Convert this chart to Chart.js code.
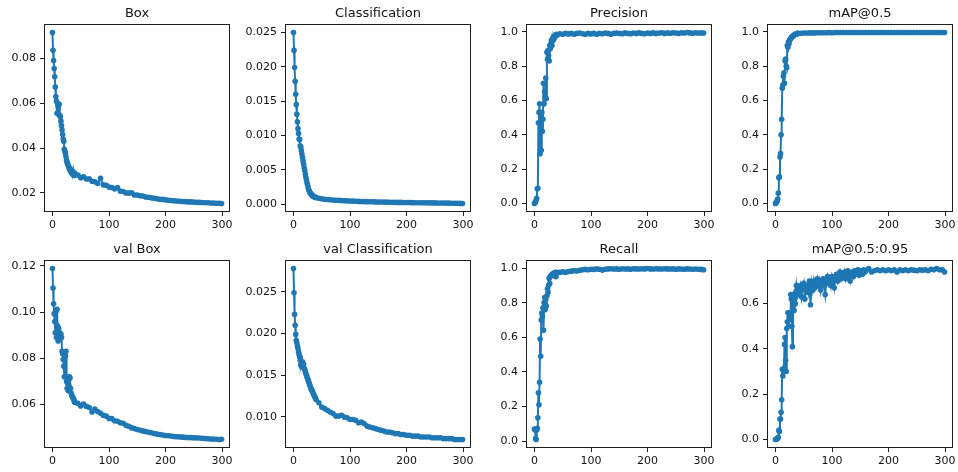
<!DOCTYPE html>
<html><head><meta charset="utf-8">
<script src="https://cdn.jsdelivr.net/npm/chart.js@4.4.1/dist/chart.umd.min.js"></script>
<style>
html,body{margin:0;padding:0;background:#fff;}
#wrap{position:relative;width:958px;height:472px;overflow:hidden;background:#fff;}
#wrap canvas{position:absolute;}
</style></head><body><div id="wrap"></div>
<script>
// ---- data ----
const epochs = [0,1,2,3,4,5,6,7,8,9,10,11,12,13,14,15,16,17,18,19,20,21,22,23,24,25,26,27,28,29,30,31,32,33,34,35,36,37,38,39,40,
 45,50,55,60,65,70,75,80,85,90,95,100,105,110,115,120,125,130,135,140,145,150,155,160,165,170,175,180,185,190,195,200,205,210,215,220,225,230,235,240,245,250,255,260,265,270,275,280,285,290,295,299];

const map95Epochs = [0,1,2,3,4,5,6,7,8,9,10,11,12,13,14,15,16,17,18,19,20,21,22,23,24,25,26,27,28,29,30,31,32,33,34,35,36,37,38,39,40,
 42,44,46,48,50,52,54,56,58,60,62,64,66,68,70,72,74,76,78,80,82,84,86,88,90,92,94,96,98,100,
 102,104,106,108,110,112,114,116,118,120,122,124,126,128,130,132,134,136,138,140,142,144,146,148,150,152,154,156,158,160,
 165,170,175,180,185,190,195,200,205,210,215,220,225,230,235,240,245,250,255,260,265,270,275,280,285,290,295,299];

const titles = ['Box','Classification','Precision','mAP@0.5','val Box','val Classification','Recall','mAP@0.5:0.95'];

const boxLoss = [0.0915,0.0836,0.0790,0.0755,0.0718,0.0672,0.0630,0.0610,0.0555,0.0600,0.0585,0.0550,0.0595,0.0545,0.0540,0.0520,0.0500,0.0480,0.0460,0.0440,0.0430,0.0395,0.0385,0.0375,0.0360,0.0345,0.0335,0.0330,0.0320,0.0315,0.0305,0.0310,0.0295,0.0300,0.0290,0.0285,0.0295,0.0280,0.0290,0.0278,0.0285,
 0.0280,0.0268,0.0272,0.0262,0.0263,0.0252,0.0250,0.0242,0.0265,0.0236,0.0234,0.0226,0.0224,0.0218,0.0224,0.0208,0.0206,0.0200,0.0199,0.0201,0.0191,0.0191,0.0187,0.0186,0.0182,0.0180,0.0178,0.0176,0.0174,0.0172,0.0171,0.0169,0.0167,0.0166,0.0165,0.0164,0.0163,0.0162,0.0161,0.0160,0.0160,0.0159,0.0158,0.0158,0.0157,0.0156,0.0156,0.0155,0.0155,0.0154,0.0154,0.0153];

const clsLoss = [0.0250,0.0224,0.0199,0.0179,0.0160,0.0145,0.0131,0.0120,0.0110,0.0103,0.0095,0.0094,0.0085,0.0083,0.0078,0.0073,0.0068,0.0063,0.0058,0.0053,0.0049,0.0044,0.0039,0.0035,0.0031,0.0028,0.0024,0.0021,0.0019,0.0017,0.0016,0.0015,0.0014,0.0013,0.0012,0.00115,0.0011,0.00105,0.0010,0.00098,0.00095,
 0.00085,0.00078,0.00072,0.00068,0.00064,0.0006,0.00057,0.00055,0.00053,0.0005,0.00048,0.00046,0.00044,0.00042,0.0004,0.00039,0.00037,0.00036,0.00035,0.00034,0.00033,0.00032,0.00031,0.0003,0.00029,0.00028,0.00027,0.00026,0.00025,0.00025,0.00024,0.00023,0.00023,0.00022,0.00021,0.00021,0.0002,0.0002,0.00019,0.00019,0.00018,0.00018,0.00017,0.00017,0.00016,0.00015,0.00015,0.00014,0.00013,0.00012,0.00011,0.0001];

const precision = [0.00,0.005,0.01,0.02,0.03,0.085,0.088,0.47,0.53,0.58,0.29,0.50,0.31,0.53,0.42,0.49,0.70,0.58,0.65,0.62,0.73,0.61,0.88,0.84,0.89,0.86,0.83,0.92,0.90,0.93,0.95,0.92,0.96,0.95,0.97,0.96,0.975,0.98,0.975,0.985,0.98,
 0.988,0.985,0.99,0.987,0.99,0.985,0.99,0.992,0.988,0.985,0.99,0.987,0.99,0.985,0.99,0.988,0.992,0.99,0.985,0.99,0.992,0.99,0.988,0.993,0.99,0.988,0.992,0.99,0.993,0.99,0.988,0.992,0.99,0.993,0.99,0.992,0.994,0.99,0.993,0.991,0.994,0.992,0.99,0.994,0.992,0.995,0.993,0.991,0.994,0.992,0.993,0.992];

const map50 = [0.0,0.003,0.008,0.015,0.025,0.06,0.15,0.155,0.27,0.29,0.40,0.49,0.67,0.69,0.74,0.76,0.70,0.83,0.84,0.80,0.79,0.92,0.91,0.94,0.93,0.95,0.955,0.96,0.965,0.97,0.97,0.975,0.978,0.98,0.982,0.985,0.985,0.987,0.988,0.99,0.99,
 0.991,0.992,0.992,0.993,0.993,0.993,0.994,0.994,0.994,0.994,0.995,0.994,0.995,0.995,0.995,0.995,0.995,0.995,0.995,0.995,0.995,0.995,0.995,0.995,0.995,0.995,0.995,0.995,0.995,0.995,0.995,0.995,0.995,0.995,0.995,0.995,0.995,0.995,0.995,0.995,0.995,0.995,0.995,0.995,0.995,0.995,0.995,0.995,0.995,0.995,0.995,0.995];

const valBoxLoss = [0.1188,0.1104,0.1036,0.0993,0.0959,0.0910,0.1000,0.0890,0.1012,0.0940,0.0875,0.0930,0.0890,0.0910,0.0900,0.0905,0.0890,0.0830,0.0820,0.0795,0.0765,0.0720,0.0825,0.0810,0.0830,0.0700,0.0670,0.0690,0.0660,0.0680,0.0720,0.0715,0.0670,0.0650,0.0640,0.0635,0.0630,0.0625,0.0620,0.0610,0.0610,
 0.0605,0.0594,0.0602,0.0592,0.0587,0.0568,0.0580,0.0570,0.0562,0.0553,0.0550,0.0540,0.0539,0.0530,0.0528,0.0521,0.0519,0.0510,0.0506,0.0499,0.0496,0.0492,0.0489,0.0486,0.0483,0.0480,0.0478,0.0475,0.0472,0.0470,0.0468,0.0466,0.0465,0.0464,0.0462,0.0461,0.0460,0.0459,0.0458,0.0457,0.0457,0.0456,0.0456,0.0455,0.0454,0.0453,0.0452,0.0451,0.0451,0.0450,0.0449,0.0450];

const valClsLoss = [0.0278,0.0249,0.0223,0.0210,0.0199,0.0192,0.0189,0.0185,0.0182,0.0178,0.0175,0.0172,0.0168,0.0162,0.0165,0.0160,0.0166,0.0161,0.0163,0.0158,0.0157,0.0154,0.0152,0.0150,0.0148,0.0146,0.0144,0.0142,0.0140,0.0138,0.0136,0.0134,0.0133,0.0131,0.0130,0.0128,0.0127,0.0125,0.0124,0.0122,0.0121,
 0.0117,0.0112,0.0110,0.0108,0.0106,0.0104,0.0101,0.0101,0.0102,0.0100,0.0099,0.0097,0.0097,0.0096,0.0093,0.0094,0.0092,0.0089,0.0088,0.0087,0.0086,0.0085,0.0084,0.0083,0.0082,0.0082,0.0081,0.0080,0.0080,0.0079,0.0079,0.0078,0.0078,0.0077,0.0077,0.0077,0.0076,0.0076,0.0076,0.0076,0.0075,0.0075,0.0075,0.0075,0.0074,0.0074,0.0074,0.0074,0.0073,0.0073,0.0073,0.0073];

const recall = [0.07,0.065,0.015,0.01,0.065,0.075,0.135,0.28,0.21,0.34,0.59,0.49,0.70,0.74,0.72,0.77,0.64,0.80,0.83,0.76,0.82,0.78,0.84,0.88,0.86,0.90,0.94,0.91,0.95,0.955,0.96,0.96,0.965,0.96,0.97,0.965,0.97,0.975,0.95,0.97,0.975,
 0.975,0.978,0.975,0.98,0.982,0.985,0.983,0.987,0.99,0.992,0.99,0.993,0.992,0.995,0.993,0.988,0.993,0.995,0.996,0.994,0.995,0.993,0.996,0.994,0.995,0.993,0.996,0.995,0.994,0.996,0.995,0.997,0.995,0.994,0.996,0.995,0.994,0.996,0.995,0.994,0.995,0.993,0.995,0.994,0.993,0.995,0.994,0.993,0.994,0.993,0.992,0.99];

const map5095 = [0.000,0.001,0.002,0.003,0.005,0.01,0.04,0.035,0.09,0.09,0.12,0.175,0.31,0.28,0.31,0.30,0.42,0.45,0.35,0.30,0.49,0.52,0.56,0.50,0.54,0.56,0.53,0.64,0.62,0.50,0.41,0.60,0.64,0.57,0.62,0.60,0.65,0.68,0.66,0.67,0.64,
 0.66,0.68,0.63,0.67,0.69,0.62,0.66,0.68,0.65,0.70,
 0.595,0.69,0.66,0.70,0.67,0.69,0.71,0.68,0.70,0.66,
 0.70,0.71,0.68,0.64,0.70,0.72,0.69,0.71,0.68,0.72,
 0.70,0.67,0.72,0.73,0.70,0.72,0.74,0.71,0.73,0.72,
 0.74,0.71,0.73,0.745,0.72,0.70,0.735,0.74,0.72,0.745,
 0.73,0.74,0.75,0.725,0.74,0.745,0.73,0.75,0.74,0.745,
 0.755,0.74,0.745,0.75,0.745,0.75,0.745,0.75,0.745,0.75,0.74,0.75,0.745,0.75,0.745,0.75,0.748,0.745,0.75,0.748,0.75,0.745,0.752,0.75,0.755,0.75,0.75,0.74];

const xTicks = [0,100,200,300];
const xTickLabels = ['0','100','200','300'];
const boxTicks = [0.02,0.04,0.06,0.08];
const boxTickLabels = ['0.02','0.04','0.06','0.08'];
const clsTicks = [0,0.005,0.010,0.015,0.020,0.025];
const clsTickLabels = ['0.000','0.005','0.010','0.015','0.020','0.025'];
const unitTicks = [0,0.2,0.4,0.6,0.8,1.0];
const unitTickLabels = ['0.0','0.2','0.4','0.6','0.8','1.0'];
const valBoxTicks = [0.06,0.08,0.10,0.12];
const valBoxTickLabels = ['0.06','0.08','0.10','0.12'];
const valClsTicks = [0.010,0.015,0.020,0.025];
const valClsTickLabels = ['0.010','0.015','0.020','0.025'];
const map95Ticks = [0,0.2,0.4,0.6];
const map95TickLabels = ['0.0','0.2','0.4','0.6'];

const seriesList = [boxLoss, clsLoss, precision, map50, valBoxLoss, valClsLoss, recall, map5095];
const xList = [epochs, epochs, epochs, epochs, epochs, epochs, epochs, map95Epochs];
const yTickList = [boxTicks, clsTicks, unitTicks, unitTicks, valBoxTicks, valClsTicks, unitTicks, map95Ticks];
const yLabelList = [boxTickLabels, clsTickLabels, unitTickLabels, unitTickLabels, valBoxTickLabels, valClsTickLabels, unitTickLabels, map95TickLabels];

// ---- layout ----
const colLeft = [44, 285, 526, 767];
const rowTop = [24, 260];
const AREA_W = 186, AREA_H = 188, Y_W = 44, TITLE_H = 24, X_H = 24;
const INK = '#1e1e1e';
const TXT = '#111111';
const BLUE = '#1f77b4';

const framePlugin = {
  id: 'frame',
  afterDraw(chart) {
    const {ctx, chartArea: a} = chart;
    ctx.save();
    ctx.strokeStyle = INK;
    ctx.lineWidth = 1;
    ctx.strokeRect(Math.round(a.left) + 0.5, Math.round(a.top) + 0.5,
                   Math.round(a.right - a.left) - 1, Math.round(a.bottom - a.top) - 1);
    ctx.restore();
  }
};

const wrap = document.getElementById('wrap');
seriesList.forEach((series, i) => {
  const r = Math.floor(i / 4), c = i % 4;
  const xs = xList[i];
  const cv = document.createElement('canvas');
  const w = Y_W + AREA_W + Y_W, h = TITLE_H + AREA_H + X_H;
  cv.width = w; cv.height = h;
  cv.style.width = w + 'px'; cv.style.height = h + 'px';
  cv.style.left = (colLeft[c] - Y_W) + 'px';
  cv.style.top = (rowTop[r] - TITLE_H) + 'px';
  wrap.appendChild(cv);

  const lo = Math.min(...series), hi = Math.max(...series), m = (hi - lo) * 0.05;
  const yt = yTickList[i], yl = yLabelList[i];
  const tickFont = {family: 'DejaVu Sans', size: 11};

  new Chart(cv, {
    type: 'line',
    data: {
      datasets: [{
        data: xs.map((e, k) => ({x: e, y: series[k]})),
        borderColor: BLUE, backgroundColor: BLUE,
        borderWidth: 2, pointRadius: 2.8, pointBorderWidth: 0,
        pointBackgroundColor: BLUE, pointHoverRadius: 2.8, tension: 0, fill: false
      }]
    },
    options: {
      responsive: false, animation: false, devicePixelRatio: 1,
      layout: {padding: 0},
      plugins: {
        legend: {display: false}, tooltip: {enabled: false},
        title: {display: true, text: titles[i], color: TXT,
                font: {family: 'DejaVu Sans', size: 13, weight: 'normal', lineHeight: 1.2},
                padding: {top: 5.5, bottom: 2.9}}
      },
      scales: {
        x: {
          type: 'linear', min: -14.95, max: 313.95,
          afterBuildTicks: s => { s.ticks = xTicks.map(v => ({value: v})); },
          afterFit: s => { s.height = X_H; },
          ticks: {autoSkip: false, maxRotation: 0, padding: 3, color: TXT, font: tickFont,
                  callback: (v, k) => xTickLabels[k]},
          grid: {display: true, drawOnChartArea: false, drawTicks: true, tickLength: 4, color: INK},
          border: {display: false}
        },
        y: {
          type: 'linear', min: lo - m, max: hi + m,
          afterBuildTicks: s => { s.ticks = yt.map(v => ({value: v})); },
          afterFit: s => { s.width = Y_W; },
          ticks: {autoSkip: false, padding: 4, color: TXT, font: tickFont,
                  callback: (v, k) => yl[k]},
          grid: {display: true, drawOnChartArea: false, drawTicks: true, tickLength: 4, color: INK},
          border: {display: false}
        },
        yPad: {
          type: 'linear', position: 'right', min: 0, max: 1, display: true,
          afterFit: s => { s.width = Y_W; },
          ticks: {display: false},
          grid: {display: false},
          border: {display: false}
        }
      }
    },
    plugins: [framePlugin]
  });
});
</script></body></html>
